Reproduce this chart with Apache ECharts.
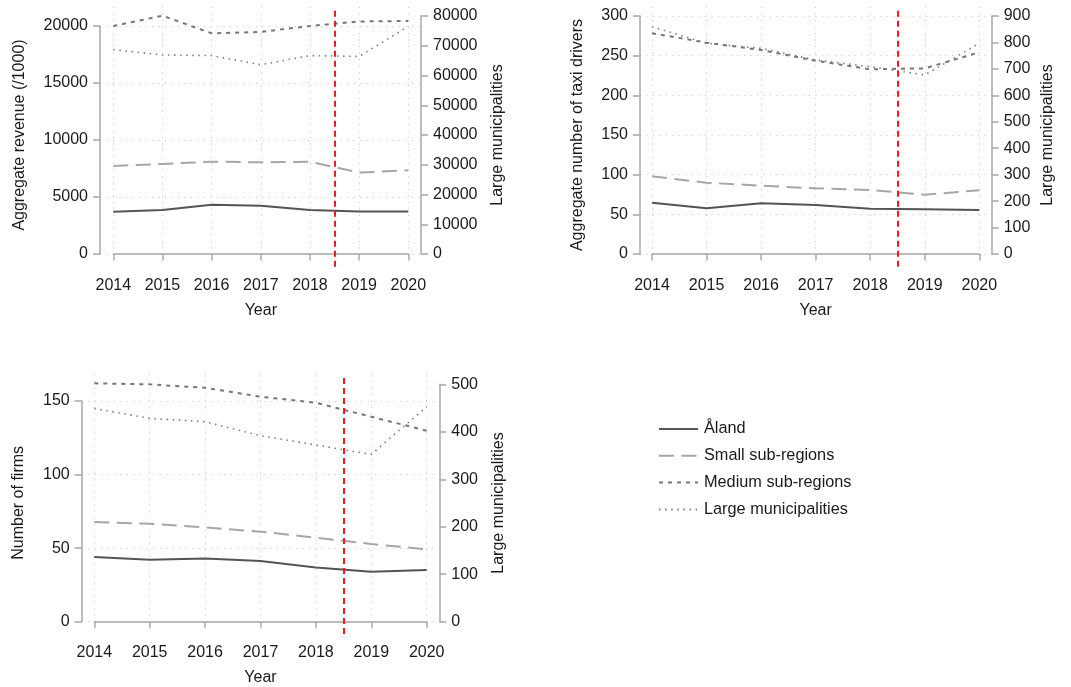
<!DOCTYPE html>
<html>
<head>
<meta charset="utf-8">
<script src="https://cdn.jsdelivr.net/npm/echarts@6/dist/echarts.min.js"></script>
<style>
  html, body { margin: 0; padding: 0; background: #fff; }
  #chart { width: 1071px; height: 687px; }
</style>
</head>
<body>
<div id="chart"></div>
<script>
const years = [2014, 2015, 2016, 2017, 2018, 2019, 2020];
const cutoffYear = 2018.5;
const seriesNames = ['Åland', 'Small sub-regions', 'Medium sub-regions', 'Large municipalities'];

// revenue (/1000)
const revenueAland = [3700, 3850, 4320, 4240, 3860, 3720, 3720];
const revenueSmall = [7720, 7900, 8100, 8040, 8100, 7140, 7340];
const revenueMedium = [20000, 20900, 19360, 19480, 20000, 20400, 20440];
const revenueLarge = [68700, 66900, 66700, 63600, 66700, 66400, 76500];

// taxi drivers
const driversAland = [64.7, 57.6, 63.9, 61.8, 57.1, 56.3, 55.5];
const driversSmall = [97.9, 89.9, 86.1, 82.8, 80.7, 74.8, 80.3];
const driversMedium = [278.2, 266.4, 257.1, 243.7, 232.8, 234.0, 254.2];
const driversLarge = [859.5, 796.8, 777.8, 733.6, 708.3, 676.9, 796.8];

// firms
const firmsAland = [44.0, 42.1, 43.0, 41.2, 36.9, 34.0, 35.1];
const firmsSmall = [67.7, 66.6, 64.1, 61.2, 57.1, 52.8, 49.2];
const firmsMedium = [162.0, 161.3, 159.0, 152.9, 148.8, 139.3, 129.8];
const firmsLarge = [449.3, 428.2, 421.2, 391.7, 372.1, 352.4, 452.8];

const textColor = '#1a1a1a';
const axisGrey = '#a8a8a8';
const gridGrey = '#c4c4c4';
const font = "'Liberation Sans', Arial, sans-serif";
const fs = 16;

const lineStyles = [
  { color: '#545454', width: 2, type: 'solid' },
  { color: '#a6a6a6', width: 2, type: [15, 7.5] },
  { color: '#767676', width: 2, type: [4, 5] },
  { color: '#7c7c7c', width: 1.6, type: [1.5, 4.6] }
];

const panels = [
  {
    values: [revenueAland, revenueSmall, revenueMedium, revenueLarge],
    leftName: 'Aggregate revenue (/1000)', leftMax: 20000, leftStep: 5000,
    rightMax: 80000, rightStep: 10000,
    axisL: 100, axisR: 421, d0: 113.3, d1: 408.3,
    y0: 254, yL: 26, yR: 16, vTop: 7, xAxisY: 266.7,
    leftGap: 72, rightGap: 69, leftShift: 10
  },
  {
    values: [driversAland, driversSmall, driversMedium, driversLarge],
    leftName: 'Aggregate number of taxi drivers', leftMax: 300, leftStep: 50,
    rightMax: 900, rightStep: 100,
    axisL: 640, axisR: 991.7, d0: 652, d1: 979.3,
    y0: 254, yL: 16, yR: 16, vTop: 7, xAxisY: 266.7,
    leftGap: 54, rightGap: 48, leftShift: 0
  },
  {
    values: [firmsAland, firmsSmall, firmsMedium, firmsLarge],
    leftName: 'Number of firms', leftMax: 150, leftStep: 50,
    rightMax: 500, rightStep: 100,
    axisL: 81.7, axisR: 439.3, d0: 94.3, d1: 426.7,
    y0: 621.7, yL: 401, yR: 384.3, vTop: 374.3, xAxisY: 634,
    leftGap: 55, rightGap: 51, leftShift: 17
  }
];

const grid = [], xAxis = [], yAxis = [], series = [];
const labelStyle = { color: textColor, fontSize: fs, fontFamily: font };

panels.forEach(function (p, k) {
  const gA = k * 4, gB = gA + 1, gC = gA + 2, gD = gA + 3;
  const w = p.d1 - p.d0;
  // A: left axis + x axis
  grid.push({ left: p.d0, width: w, top: p.yL, height: p.y0 - p.yL });
  // B: right axis
  grid.push({ left: p.d0, width: w, top: p.yR, height: p.y0 - p.yR });
  // C: horizontal grid lines
  grid.push({ left: p.axisL, width: p.axisR - p.axisL, top: p.yL, height: p.y0 - p.yL });
  // D: vertical grid lines + cutoff
  grid.push({ left: p.d0, width: w, top: p.vTop, height: p.xAxisY - p.vTop });

  xAxis.push({
    gridIndex: gA, type: 'value', min: 2014, max: 2020, interval: 1,
    offset: p.xAxisY - p.y0,
    axisLine: { lineStyle: { color: axisGrey, width: 1.5 } },
    axisTick: { length: 6, lineStyle: { color: axisGrey, width: 1.5 } },
    axisLabel: Object.assign({ margin: 11, formatter: function (v) { return String(v); } }, labelStyle),
    splitLine: { show: false },
    name: 'Year', nameLocation: 'middle', nameGap: 36,
    nameTextStyle: labelStyle
  });
  xAxis.push({ gridIndex: gB, type: 'value', min: 2014, max: 2020, show: false });
  xAxis.push({ gridIndex: gC, type: 'value', min: 0, max: 1, show: false });
  xAxis.push({
    gridIndex: gD, type: 'value', min: 2014, max: 2020, interval: 1,
    axisLine: { show: false }, axisTick: { show: false }, axisLabel: { show: false },
    splitLine: { show: true, lineStyle: { color: gridGrey, width: 1, type: [1, 5.5] } }
  });

  yAxis.push({
    gridIndex: gA, type: 'value', position: 'left', min: 0, max: p.leftMax, interval: p.leftStep,
    offset: p.d0 - p.axisL,
    axisLine: { show: true, lineStyle: { color: axisGrey, width: 1.5 } },
    axisTick: { show: true, length: 7, lineStyle: { color: axisGrey, width: 1.5 } },
    axisLabel: Object.assign({ margin: 12, formatter: function (v) { return String(v); } }, labelStyle),
    splitLine: { show: false },
    name: p.leftName, nameLocation: 'middle', nameRotate: 90, nameGap: p.leftGap,
    nameTextStyle: Object.assign({ padding: [0, 0, 0, p.leftShift] }, labelStyle)
  });
  yAxis.push({
    gridIndex: gB, type: 'value', position: 'right', min: 0, max: p.rightMax, interval: p.rightStep,
    offset: p.axisR - p.d1,
    axisLine: { show: true, lineStyle: { color: axisGrey, width: 1.5 } },
    axisTick: { show: true, length: 7, lineStyle: { color: axisGrey, width: 1.5 } },
    axisLabel: Object.assign({ margin: 12, formatter: function (v) { return String(v); } }, labelStyle),
    splitLine: { show: false },
    name: 'Large municipalities', nameLocation: 'middle', nameRotate: 90, nameGap: p.rightGap,
    nameTextStyle: labelStyle
  });
  yAxis.push({
    gridIndex: gC, type: 'value', min: 0, max: p.leftMax, interval: p.leftStep,
    axisLine: { show: false }, axisTick: { show: false }, axisLabel: { show: false },
    splitLine: { show: true, lineStyle: { color: gridGrey, width: 1, type: [1, 5.5] } }
  });
  yAxis.push({ gridIndex: gD, type: 'value', min: 0, max: 1, show: false });

  p.values.forEach(function (vals, i) {
    const onRight = i === 3;
    series.push({
      type: 'line',
      name: seriesNames[i],
      xAxisIndex: onRight ? gB : gA,
      yAxisIndex: onRight ? gB : gA,
      data: years.map(function (y, j) { return [y, vals[j]]; }),
      symbol: 'none',
      clip: false,
      silent: true,
      z: 3,
      color: lineStyles[i].color,
      lineStyle: lineStyles[i]
    });
  });

  series.push({
    type: 'line', name: 'cutoff', xAxisIndex: gD, yAxisIndex: gD, data: [],
    silent: true, z: 4,
    markLine: {
      symbol: 'none', silent: true, animation: false,
      label: { show: false },
      lineStyle: { color: '#ee1c1c', width: 2, type: [6, 4] },
      data: [{ xAxis: cutoffYear }]
    }
  });
});

const chart = echarts.init(document.getElementById('chart'));
chart.setOption({
  animation: false,
  backgroundColor: '#ffffff',
  grid: grid,
  xAxis: xAxis,
  yAxis: yAxis,
  legend: {
    data: seriesNames,
    orient: 'vertical',
    left: 653, top: 416,
    itemWidth: 39, itemHeight: 14, itemGap: 10.8,
    selectedMode: false,
    itemStyle: { opacity: 0 },
    textStyle: { color: textColor, fontSize: 16.3, fontFamily: font, padding: [0, 0, 0, 1] }
  },
  series: series
});
</script>
</body>
</html>
